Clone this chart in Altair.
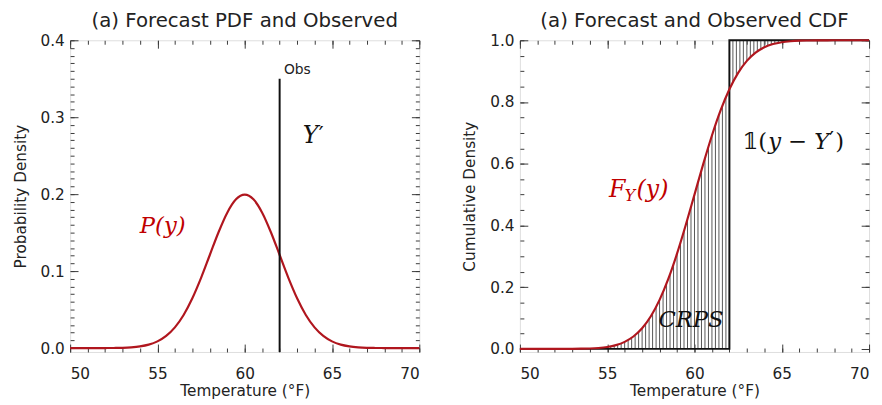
import altair as alt
import pandas as pd

# ---------------- data ----------------
temps = [50.0, 50.5, 51.0, 51.5, 52.0, 52.5, 53.0, 53.5, 54.0, 54.5,
         55.0, 55.5, 56.0, 56.5, 57.0, 57.5, 58.0, 58.5, 59.0, 59.5,
         60.0, 60.5, 61.0, 61.5, 62.0, 62.5, 63.0, 63.5, 64.0, 64.5,
         65.0, 65.5, 66.0, 66.5, 67.0, 67.5, 68.0, 68.5, 69.0, 69.5, 70.0]
pdf_vals = [0.0, 0.0, 0.0, 0.0, 0.0001, 0.0002, 0.0004, 0.0010, 0.0022, 0.0045,
            0.0088, 0.0159, 0.0270, 0.0431, 0.0648, 0.0913, 0.1210, 0.1506, 0.1760, 0.1933,
            0.1995, 0.1933, 0.1760, 0.1506, 0.1210, 0.0913, 0.0648, 0.0431, 0.0270, 0.0159,
            0.0088, 0.0045, 0.0022, 0.0010, 0.0004, 0.0002, 0.0001, 0.0, 0.0, 0.0, 0.0]
cdf_vals = [0.0, 0.0, 0.0, 0.0, 0.0, 0.0001, 0.0002, 0.0006, 0.0013, 0.0030,
            0.0062, 0.0122, 0.0228, 0.0401, 0.0668, 0.1056, 0.1587, 0.2266, 0.3085, 0.4013,
            0.5000, 0.5987, 0.6915, 0.7734, 0.8413, 0.8944, 0.9332, 0.9599, 0.9772, 0.9878,
            0.9938, 0.9970, 0.9987, 0.9994, 0.9998, 0.9999, 1.0, 1.0, 1.0, 1.0, 1.0]

hatch_temps = [54.2, 54.4, 54.6, 54.8, 55.0, 55.2, 55.4, 55.6, 55.8, 56.0,
               56.2, 56.4, 56.6, 56.8, 57.0, 57.2, 57.4, 57.6, 57.8, 58.0,
               58.2, 58.4, 58.6, 58.8, 59.0, 59.2, 59.4, 59.6, 59.8, 60.0,
               60.2, 60.4, 60.6, 60.8, 61.0, 61.2, 61.4, 61.6, 61.8, 62.0,
               62.2, 62.4, 62.6, 62.8, 63.0, 63.2, 63.4, 63.6, 63.8, 64.0,
               64.2, 64.4, 64.6, 64.8, 65.0, 65.2, 65.4, 65.6, 65.8]
hatch_cdf = [0.0019, 0.0026, 0.0035, 0.0047, 0.0062, 0.0082, 0.0107, 0.0139, 0.0179, 0.0228,
             0.0287, 0.0359, 0.0446, 0.0548, 0.0668, 0.0808, 0.0968, 0.1151, 0.1357, 0.1587,
             0.1841, 0.2119, 0.2420, 0.2743, 0.3085, 0.3446, 0.3821, 0.4207, 0.4602, 0.5000,
             0.5398, 0.5793, 0.6179, 0.6554, 0.6915, 0.7257, 0.7580, 0.7881, 0.8159, 0.8413,
             0.8643, 0.8849, 0.9032, 0.9192, 0.9332, 0.9452, 0.9554, 0.9641, 0.9713, 0.9772,
             0.9821, 0.9861, 0.9893, 0.9918, 0.9938, 0.9953, 0.9965, 0.9974, 0.9981]

obs_temp = 62.0
obs_top = 0.35

x_major = [50, 55, 60, 65, 70]
x_minor = [50, 51, 52, 53, 54, 55, 56, 57, 58, 59, 60,
           61, 62, 63, 64, 65, 66, 67, 68, 69, 70]
pdf_y_major = [0.0, 0.1, 0.2, 0.3, 0.4]
pdf_y_minor = [0.00, 0.01, 0.02, 0.03, 0.04, 0.05, 0.06, 0.07, 0.08, 0.09,
               0.10, 0.11, 0.12, 0.13, 0.14, 0.15, 0.16, 0.17, 0.18, 0.19,
               0.20, 0.21, 0.22, 0.23, 0.24, 0.25, 0.26, 0.27, 0.28, 0.29,
               0.30, 0.31, 0.32, 0.33, 0.34, 0.35, 0.36, 0.37, 0.38, 0.39, 0.40]
cdf_y_major = [0.0, 0.2, 0.4, 0.6, 0.8, 1.0]
cdf_y_minor = [0.0, 0.05, 0.1, 0.15, 0.2, 0.25, 0.3, 0.35, 0.4, 0.45, 0.5,
               0.55, 0.6, 0.65, 0.7, 0.75, 0.8, 0.85, 0.9, 0.95, 1.0]

title_left = "(a) Forecast PDF and Observed"
title_right = "(a) Forecast and Observed CDF"
x_title = "Temperature (°F)"
y_title_left = "Probability Density"
y_title_right = "Cumulative Density"

# ---------------- styling ----------------
RED = "#b0161e"
TXTRED = "#c00000"
FRAME = "#3a3a3a"
FONT = "DejaVu Sans"
MATH = "DejaVu Serif"
W, H = 354, 316
MAJ, MIN = 8, 4

xs = alt.Scale(domain=[50, 70], nice=False, zero=False)
ys_pdf = alt.Scale(domain=[-0.005, 0.4], nice=False, zero=False)
ys_cdf = alt.Scale(domain=[-0.01, 1.0], nice=False, zero=False)


def axis(orient, values, size, labels=False, title=None, fmt=None):
    kw = dict(orient=orient, values=values, tickSize=size, offset=-size,
              labels=labels, domain=False, grid=False, ticks=True,
              tickColor=FRAME, tickWidth=1, title=title)
    vertical = orient in ("left", "right")
    if labels:
        kw.update(labelFont=FONT, labelFontSize=15.5, labelColor="#222",
                  labelPadding=6 if vertical else 15)
        if fmt:
            kw["format"] = fmt
    if title:
        kw.update(titleFont=FONT, titleFontSize=15.5, titleFontWeight="normal",
                  titleColor="#222", titlePadding=12 if vertical else 2)
    return alt.Axis(**kw)


def label(x, y, s, scale_y, color="#111", size=24, italic=True, align="left", dx=0, dy=0,
          font=MATH, baseline="middle", xaxis=None, yaxis=None):
    kw = dict(align=align, baseline=baseline, font=font, fontSize=size, color=color, dx=dx, dy=dy)
    if italic:
        kw["fontStyle"] = "italic"
    return alt.Chart(pd.DataFrame({"t": [x], "v": [y], "s": [s]})).mark_text(**kw).encode(
        x=alt.X("t:Q", scale=xs, axis=xaxis),
        y=alt.Y("v:Q", scale=scale_y, axis=yaxis),
        text="s:N",
    )


def ptitle(text):
    return alt.TitleParams(text, font=FONT, fontSize=20, fontWeight="normal", color="#222", offset=2)


# ---------------- left panel ----------------
pdf_df = pd.DataFrame({"t": temps, "p": pdf_vals})
obs_df = pd.DataFrame({"t": [obs_temp], "lo": [-0.005], "hi": [obs_top]})

curve_l = alt.Chart(pdf_df).mark_line(color=RED, strokeWidth=2.2, interpolate="monotone").encode(
    x=alt.X("t:Q", scale=xs, axis=axis("bottom", x_major, MAJ, labels=True, title=x_title, fmt="d")),
    y=alt.Y("p:Q", scale=ys_pdf, axis=axis("left", pdf_y_major, MAJ, labels=True, title=y_title_left, fmt=".1f")),
)
obs_l = alt.Chart(obs_df).mark_rule(color="#111", strokeWidth=2).encode(
    x=alt.X("t:Q", scale=xs, axis=axis("bottom", x_minor, MIN)),
    y=alt.Y("lo:Q", scale=ys_pdf, axis=axis("left", pdf_y_minor, MIN)),
    y2="hi:Q",
)
obs_lab = label(62.25, 0.352, "Obs", ys_pdf, color="#222", size=14, italic=False, font=FONT,
                baseline="bottom", xaxis=axis("top", x_major, MAJ), yaxis=axis("right", pdf_y_major, MAJ))
y_a = label(63.33, 0.276, "Y", ys_pdf, xaxis=axis("top", x_minor, MIN), yaxis=axis("right", pdf_y_minor, MIN))
y_b = label(63.33, 0.276, "′", ys_pdf, italic=False, font=FONT, size=22, dx=16, dy=-1)
py_lab = label(55.3, 0.158, "P(y)", ys_pdf, color=TXTRED, size=23, align="center")

left = alt.layer(curve_l, obs_l, obs_lab, y_a, y_b, py_lab).resolve_axis(
    x="independent", y="independent").properties(width=W, height=H, title=ptitle(title_left))

# ---------------- right panel ----------------
cdf_df = pd.DataFrame({"t": temps, "c": cdf_vals})
hatch_df = pd.DataFrame({"t": hatch_temps, "c": hatch_cdf})
hatch_df["lo"] = [c if t > obs_temp else 0.0 for t, c in zip(hatch_df.t, hatch_df.c)]
hatch_df["hi"] = [1.0 if t > obs_temp else c for t, c in zip(hatch_df.t, hatch_df.c)]
step_df = pd.DataFrame({"t": [50, obs_temp, obs_temp, 70], "c": [0, 0, 1, 1], "o": [0, 1, 2, 3]})

hatch = alt.Chart(hatch_df).mark_rule(color="#555", strokeWidth=1).encode(
    x=alt.X("t:Q", scale=xs, axis=axis("bottom", x_major, MAJ, labels=True, title=x_title, fmt="d")),
    y=alt.Y("lo:Q", scale=ys_cdf, axis=axis("left", cdf_y_major, MAJ, labels=True, title=y_title_right, fmt=".1f")),
    y2="hi:Q",
)
step = alt.Chart(step_df).mark_line(color="#111", strokeWidth=2).encode(
    x=alt.X("t:Q", scale=xs, axis=axis("bottom", x_minor, MIN)),
    y=alt.Y("c:Q", scale=ys_cdf, axis=axis("left", cdf_y_minor, MIN)),
    order="o:Q",
)
curve_r = alt.Chart(cdf_df).mark_line(color=RED, strokeWidth=2.2, interpolate="monotone").encode(
    x=alt.X("t:Q", scale=xs, axis=axis("top", x_major, MAJ)),
    y=alt.Y("c:Q", scale=ys_cdf, axis=axis("right", cdf_y_major, MAJ)),
)
crps = label(59.8, 0.093, "CRPS", ys_cdf, size=23, align="center",
             xaxis=axis("top", x_minor, MIN), yaxis=axis("right", cdf_y_minor, MIN))
ind_a = label(62.75, 0.67, "𝟙(", ys_cdf, size=23, italic=False)
ind_b = label(62.75, 0.67, "y − Y", ys_cdf, size=23, dx=26)
ind_c = label(62.75, 0.67, "′", ys_cdf, size=21, italic=False, font=FONT, dx=88, dy=-1)
ind_d = label(62.75, 0.67, ")", ys_cdf, size=23, italic=False, dx=94)
f_a = label(55.1, 0.516, "F", ys_cdf, color=TXTRED, size=24)
f_b = label(55.1, 0.516, "Y", ys_cdf, color=TXTRED, size=16, dx=16, dy=7)
f_c = label(55.1, 0.516, "(y)", ys_cdf, color=TXTRED, size=24, dx=28)

right = alt.layer(hatch, step, curve_r, crps, ind_a, ind_b, ind_c, ind_d, f_a, f_b, f_c).resolve_axis(
    x="independent", y="independent").properties(width=W, height=H, title=ptitle(title_right))

chart = alt.hconcat(left, right, spacing=38).properties(
    padding={"left": 4, "top": 0, "right": 0, "bottom": 0}).configure_view(
    stroke=FRAME, strokeWidth=1.5).configure(background="white")

chart.save("out.html", embed_options={"renderer": "svg", "actions": False})
